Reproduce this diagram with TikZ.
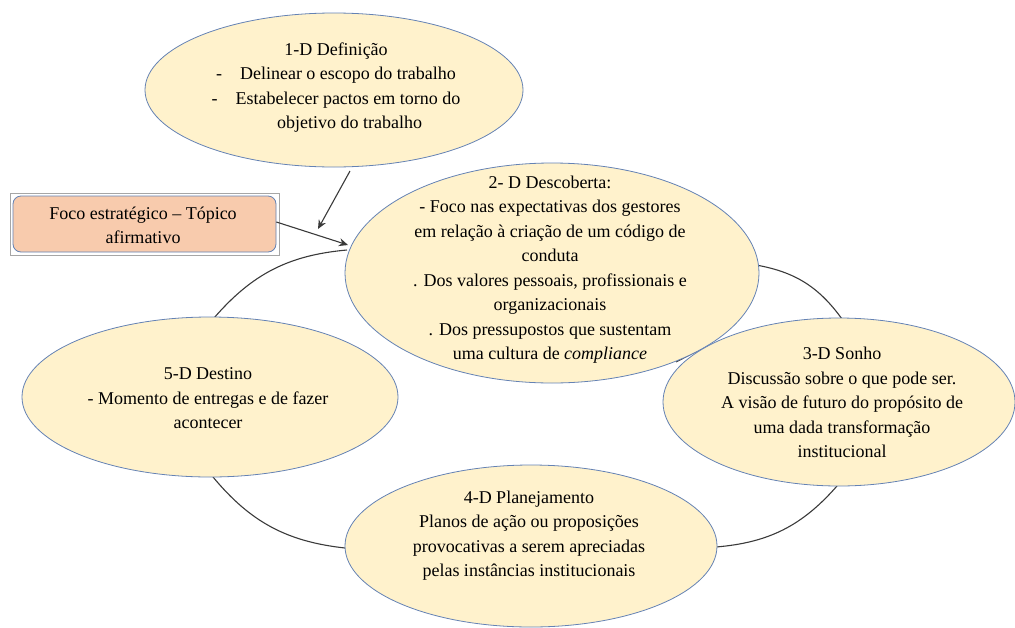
\documentclass[tikz,border=0pt]{standalone}
\usepackage{fontspec}
\setmainfont{Liberation Serif}
\usetikzlibrary{shapes.geometric,arrows.meta}
\definecolor{ellfill}{HTML}{FFF2CC}
\definecolor{ellline}{HTML}{6482B4}
\definecolor{focofill}{HTML}{F8CBAD}
\definecolor{conn}{HTML}{3A3A3A}
\tikzset{
  stage/.style={ellipse, draw=ellline, line width=0.8pt, fill=ellfill, inner sep=0pt},
  lbl/.style={align=center, inner sep=0pt, font=\fontsize{18}{24.5}\selectfont},
  ring/.style={draw=conn, line width=1.1pt},
  arr/.style={draw=conn, line width=1.1pt, -{Stealth[length=9pt,width=8pt]}}
}
\begin{document}
\begin{tikzpicture}[x=1pt,y=-1pt]
\useasboundingbox (0,0) rectangle (1015,627);
% ring connectors (drawn first, behind ellipses)
\coordinate (p5n) at (214,318);
\coordinate (p2w) at (347,250);
\coordinate (p2e) at (756,265);
\coordinate (p3n) at (842,319);
\coordinate (p3s) at (837,486);
\coordinate (p4e) at (716,547);
\coordinate (p4w) at (345,548);
\coordinate (p5s) at (213,477);
\coordinate (p2se) at (676,362);
\coordinate (p3nw) at (705,347);
\draw[ring] (p5n) to[bend left=22] (p2w);
\draw[ring] (p2e) to[bend left=22] (p3n);
\draw[ring] (p3s) to[bend left=22] (p4e);
\draw[ring] (p4w) to[bend left=22] (p5s);
\draw[ring] (p2se) -- (p3nw);
% ellipses
\node[stage, minimum width=378pt, minimum height=154pt] (one) at (334,90) {};
\node[stage, minimum width=414pt, minimum height=220pt] (two) at (552,273) {};
\node[stage, minimum width=352pt, minimum height=168pt] (three) at (839,402) {};
\node[stage, minimum width=372pt, minimum height=162pt] (four) at (531,546) {};
\node[stage, minimum width=376pt, minimum height=160pt] (five) at (210,397) {};
% foco box
\node[draw=gray!70, line width=0.8pt, fill=white, minimum width=269pt, minimum height=62pt, inner sep=0pt] (focoouter) at (144.5,224) {};
\node[draw=ellline, line width=0.8pt, fill=focofill, rounded corners=8pt, minimum width=263pt, minimum height=56pt, inner sep=0pt] (foco) at (144.5,224) {};
\node[lbl] (focot) at (143,225.5) {Foco estratégico -- Tópico\\afirmativo};
% labels
\node[lbl] (onet) at (336,87.5) {1-D Definição\\-\quad Delinear o escopo do trabalho\\-\quad Estabelecer pactos em torno do\\\hspace{1.5em}objetivo do trabalho};
\node[lbl] (twot) at (550,269.5) {2- D Descoberta:\\- Foco nas expectativas dos gestores\\em relação à criação de um código de\\conduta\\. Dos valores pessoais, profissionais e\\organizacionais\\. Dos pressupostos que sustentam\\uma cultura de \textit{compliance}};
\node[lbl] (threet) at (842,402.5) {3-D Sonho\\Discussão sobre o que pode ser.\\A visão de futuro do propósito de\\uma dada transformação\\institucional};
\node[lbl] (fourt) at (529,535.5) {4-D Planejamento\\Planos de ação ou proposições\\provocativas a serem apreciadas\\pelas instâncias institucionais};
\node[lbl] (fivet) at (208,398.5) {5-D Destino\\- Momento de entregas e de fazer\\acontecer};
% arrows
\coordinate (a1s) at (350,171);
\coordinate (a1e) at (318,229);
\draw[arr] (a1s) -- (a1e);
\coordinate (a2e) at (348,245);
\draw[arr] (foco.east) ++(0,-2) coordinate (a2s) -- (a2e);
\end{tikzpicture}
\end{document}
